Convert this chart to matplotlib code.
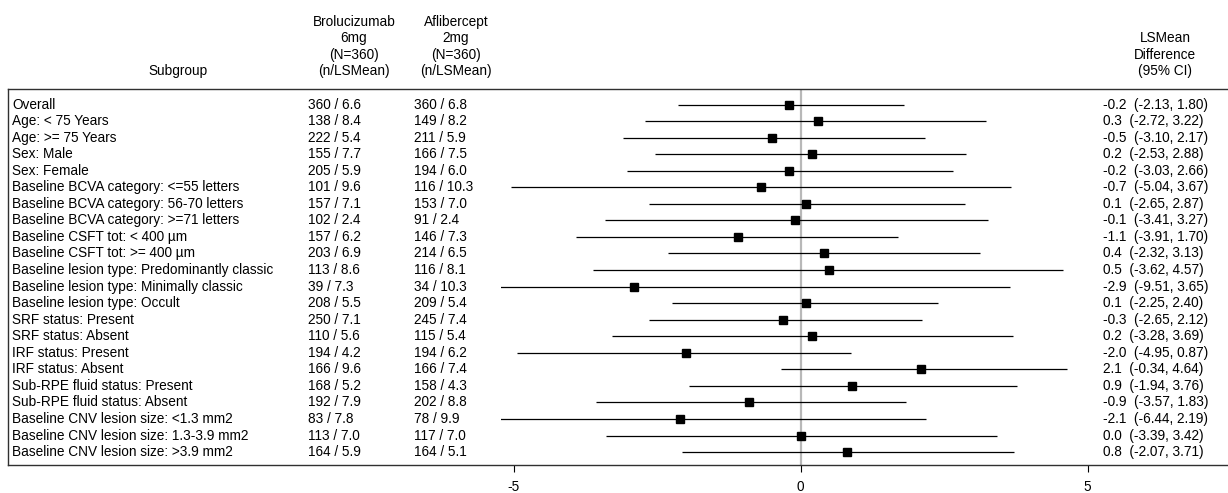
import numpy as np
import matplotlib
matplotlib.use("Agg")
import matplotlib.pyplot as plt
from matplotlib.patches import Rectangle

plt.rcParams['font.family'] = ['Liberation Sans', 'DejaVu Sans']

# Subgroup rows (top to bottom)
subgroups = [
    "Overall",
    "Age: < 75 Years",
    "Age: >= 75 Years",
    "Sex: Male",
    "Sex: Female",
    "Baseline BCVA category: <=55 letters",
    "Baseline BCVA category: 56-70 letters",
    "Baseline BCVA category: >=71 letters",
    "Baseline CSFT tot: < 400 \u00b5m",
    "Baseline CSFT tot: >= 400 \u00b5m",
    "Baseline lesion type: Predominantly classic",
    "Baseline lesion type: Minimally classic",
    "Baseline lesion type: Occult",
    "SRF status: Present",
    "SRF status: Absent",
    "IRF status: Present",
    "IRF status: Absent",
    "Sub-RPE fluid status: Present",
    "Sub-RPE fluid status: Absent",
    "Baseline CNV lesion size: <1.3 mm2",
    "Baseline CNV lesion size: 1.3-3.9 mm2",
    "Baseline CNV lesion size: >3.9 mm2",
]

bro_n = [360, 138, 222, 155, 205, 101, 157, 102, 157, 203, 113, 39, 208, 250, 110, 194, 166, 168, 192, 83, 113, 164]
bro_mean = [6.6, 8.4, 5.4, 7.7, 5.9, 9.6, 7.1, 2.4, 6.2, 6.9, 8.6, 7.3, 5.5, 7.1, 5.6, 4.2, 9.6, 5.2, 7.9, 7.8, 7.0, 5.9]
afl_n = [360, 149, 211, 166, 194, 116, 153, 91, 146, 214, 116, 34, 209, 245, 115, 194, 166, 158, 202, 78, 117, 164]
afl_mean = [6.8, 8.2, 5.9, 7.5, 6.0, 10.3, 7.0, 2.4, 7.3, 6.5, 8.1, 10.3, 5.4, 7.4, 5.4, 6.2, 7.4, 4.3, 8.8, 9.9, 7.0, 5.1]

diff = [-0.2, 0.3, -0.5, 0.2, -0.2, -0.7, 0.1, -0.1, -1.1, 0.4, 0.5, -2.9, 0.1, -0.3, 0.2, -2.0, 2.1, 0.9, -0.9, -2.1, 0.0, 0.8]
ci_lo = [-2.13, -2.72, -3.10, -2.53, -3.03, -5.04, -2.65, -3.41, -3.91, -2.32, -3.62, -9.51, -2.25, -2.65, -3.28, -4.95, -0.34, -1.94, -3.57, -6.44, -3.39, -2.07]
ci_hi = [1.80, 3.22, 2.17, 2.88, 2.66, 3.67, 2.87, 3.27, 1.70, 3.13, 4.57, 3.65, 2.40, 2.12, 3.69, 0.87, 4.64, 3.76, 1.83, 2.19, 3.42, 3.71]

xticks = [-5, 0, 5]

W, H = 1228, 493
fig = plt.figure(figsize=(W / 100, H / 100), dpi=100)

# axes box in pixels: left 8, right 1228, top 89, bottom 465
ax = fig.add_axes([8 / W, 1 - 465 / H, (W - 8) / W, (465 - 89) / H])

# pixel -> data helper for the x scale (0 at 800.7 px, 57.4 px per unit)
def px(x):
    return (x - 800.7) / 57.4

ax.set_xlim(px(8), px(1228))
ax.set_ylim(21.78, -0.94)

rows = np.arange(len(subgroups))

ax.axvline(0, color='#b8b8b8', lw=1.6, zorder=1)
bars = ax.hlines(rows, ci_lo, ci_hi, color='black', lw=0.9, zorder=2)
# plot region of the forest starts at about -5.22; longer CIs are cut there
clip = Rectangle((-5.22, -1), 20, 24, transform=ax.transData)
bars.set_clip_path(clip)
ax.plot(diff, rows, 's', color='black', ms=5.6, zorder=3)

fs = 9.8
for i in rows:
    ax.text(px(12), i, subgroups[i], ha='left', va='center', fontsize=fs)
    ax.text(px(308), i, "%d / %.1f" % (bro_n[i], bro_mean[i]), ha='left', va='center', fontsize=fs)
    ax.text(px(414), i, "%d / %.1f" % (afl_n[i], afl_mean[i]), ha='left', va='center', fontsize=fs)
    ax.text(px(1103), i, "%.1f  (%.2f, %.2f)" % (diff[i], ci_lo[i], ci_hi[i]),
            ha='left', va='center', fontsize=fs)

# column headers
ax.text(px(178), -2, "Subgroup", ha='center', va='center', fontsize=fs)
bro_head = ["Brolucizumab", "6mg", "(N=360)", "(n/LSMean)"]
afl_head = ["Aflibercept", "2mg", "(N=360)", "(n/LSMean)"]
diff_head = ["LSMean", "Difference", "(95% CI)"]
for k, s in enumerate(bro_head):
    ax.text(px(354), -5 + k, s, ha='center', va='center', fontsize=fs)
for k, s in enumerate(afl_head):
    ax.text(px(456), -5 + k, s, ha='center', va='center', fontsize=fs)
for k, s in enumerate(diff_head):
    ax.text(px(1165), -4 + k, s, ha='center', va='center', fontsize=fs)

ax.set_xticks(xticks)
ax.set_xticklabels([str(t) for t in xticks])
ax.set_yticks([])
ax.tick_params(axis='x', direction='out', length=5, width=0.8, pad=5.5, labelsize=fs)

for side in ['top', 'left', 'bottom']:
    ax.spines[side].set_color('#303030')
    ax.spines[side].set_linewidth(1.0)
ax.spines['right'].set_visible(False)

fig.savefig("out.png", dpi=100)
